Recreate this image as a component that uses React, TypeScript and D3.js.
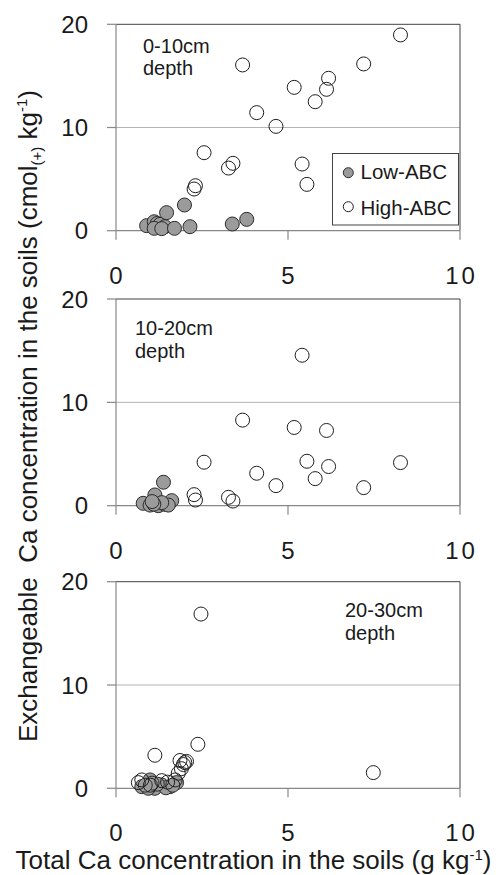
import React from "react";
import * as d3 from "d3";

// ---- Data (Total Ca g/kg, Exchangeable Ca cmol(+)/kg) ----
const lowABC_0_10: [number, number][] = [
  [0.89, 0.49], [1.11, 0.87], [1.2, 0.7], [1.28, 0.61], [1.42, 0.39], [1.11, 0.23],
  [1.33, 0.2], [1.7, 0.23], [2.15, 0.39], [1.47, 1.75], [1.99, 2.49], [3.38, 0.65], [3.8, 1.1],
];
const highABC_0_10: [number, number][] = [
  [8.27, 18.97], [7.2, 16.16], [3.68, 16.06], [6.18, 14.77], [6.12, 13.7], [5.18, 13.89],
  [5.79, 12.5], [4.09, 11.44], [4.65, 10.11], [2.56, 7.56], [3.4, 6.53], [3.27, 6.07],
  [5.41, 6.46], [5.55, 4.49], [2.31, 4.36], [2.27, 4.04],
];
const lowABC_10_20: [number, number][] = [
  [1.38, 2.27], [1.13, 1.04], [0.79, 0.23], [0.99, 0.06], [1.23, 0.0], [1.42, 0.13],
  [1.62, 0.49], [1.52, 0.06], [1.33, 0.3], [1.1, 0.15], [1.05, 0.4],
];
const highABC_10_20: [number, number][] = [
  [8.27, 4.17], [7.2, 1.75], [3.68, 8.28], [6.18, 3.79], [6.12, 7.28], [5.18, 7.57],
  [5.79, 2.62], [4.09, 3.14], [4.65, 1.94], [2.56, 4.21], [3.4, 0.45], [3.27, 0.81],
  [5.41, 14.56], [5.55, 4.3], [2.31, 0.55], [2.27, 1.07],
];
const lowABC_20_30: [number, number][] = [
  [0.99, 0.81], [1.33, 0.32], [1.76, 0.55], [0.75, 0.16], [1.13, 0.0], [1.57, 0.16],
  [0.94, 0.0], [1.45, 0.05], [1.2, 0.4], [1.65, 0.3], [1.05, 0.5], [0.85, 0.3],
];
const highABC_20_30: [number, number][] = [
  [2.47, 16.87], [2.38, 4.26], [1.13, 3.2], [7.48, 1.52], [1.86, 2.69], [2.0, 2.49],
  [1.96, 2.3], [1.81, 1.46], [0.65, 0.55], [0.75, 0.81], [1.33, 0.74], [1.72, 0.81],
  [1.9, 1.9], [1.0, 0.3], [1.5, 0.6], [2.05, 2.6],
];

const xTicks = [0, 5, 10];
const yTicks = [0, 10, 20];
const depthLabels = ["0-10cm", "10-20cm", "20-30cm"];
const legendLabels = ["Low-ABC", "High-ABC"];

const FONT = "Arial, 'Liberation Sans', Helvetica, sans-serif";

const panels = [
  { low: lowABC_0_10, high: highABC_0_10, top: 24.3, bottom: 230.7, label: depthLabels[0], lx: 143, ly: 52.7, legend: true },
  { low: lowABC_10_20, high: highABC_10_20, top: 299, bottom: 505.7, label: depthLabels[1], lx: 135, ly: 335, legend: false },
  { low: lowABC_20_30, high: highABC_20_30, top: 581.7, bottom: 788.3, label: depthLabels[2], lx: 345, ly: 617.3, legend: false },
];

const x = d3.scaleLinear().domain([0, 10]).range([116, 460]);

function Panel({ p }: { p: (typeof panels)[number] }) {
  const y = d3.scaleLinear().domain([0, 20]).range([p.bottom, p.top]);
  const R = 7;
  return (
    <g>
      <line x1={x(0)} x2={x(10)} y1={y(10)} y2={y(10)} stroke="#b4b4b4" strokeWidth={1} />
      <line x1={x(0)} x2={x(10)} y1={y(20)} y2={y(20)} stroke="#404040" strokeWidth={1} />
      <line x1={x(10)} x2={x(10)} y1={y(20)} y2={y(0)} stroke="#404040" strokeWidth={1} />
      <line x1={x(0)} x2={x(0)} y1={y(20)} y2={y(0)} stroke="#888" strokeWidth={1.2} />
      <line x1={x(0)} x2={x(10)} y1={y(0)} y2={y(0)} stroke="#888" strokeWidth={1.2} />
      {yTicks.map((t) => (
        <g key={"y" + t}>
          <line x1={x(0) - 9} x2={x(0)} y1={y(t)} y2={y(t)} stroke="#888" strokeWidth={1.2} />
          <text x={88} y={y(t) + 8.5} textAnchor="end" fontSize={24} fill="#1a1a1a" fontFamily={FONT}>
            {t}
          </text>
        </g>
      ))}
      {xTicks.map((t) => (
        <g key={"x" + t}>
          <line x1={x(t)} x2={x(t)} y1={y(0)} y2={y(0) + 9} stroke="#888" strokeWidth={1.2} />
          <text x={x(t) + 1.5} y={y(0) + 53} textAnchor="middle" fontSize={24} fill="#1a1a1a" fontFamily={FONT} letterSpacing="3px">
            {t}
          </text>
        </g>
      ))}
      {p.low.map((d, i) => (
        <circle key={"l" + i} cx={x(d[0])} cy={y(d[1])} r={R} fill="#9b9b9b" stroke="#2a2a2a" strokeWidth={1} />
      ))}
      {p.high.map((d, i) => (
        <circle key={"h" + i} cx={x(d[0])} cy={y(d[1])} r={R} fill="none" stroke="#1e1e1e" strokeWidth={1} />
      ))}
      <text x={p.lx} y={p.ly} fontSize={20} fill="#1a1a1a" fontFamily={FONT}>
        {p.label}
      </text>
      <text x={p.lx} y={p.ly + 22.5} fontSize={20} fill="#1a1a1a" fontFamily={FONT}>
        depth
      </text>
      {p.legend && (
        <g>
          <rect x={332.5} y={153.5} width={126} height={71.5} fill="#fff" stroke="#444" strokeWidth={1} />
          <circle cx={348.3} cy={172.7} r={5} fill="#9b9b9b" stroke="#2a2a2a" strokeWidth={1} />
          <text x={360.5} y={178.5} fontSize={20.5} fill="#1a1a1a" fontFamily={FONT}>
            {legendLabels[0]}
          </text>
          <circle cx={348.3} cy={206.7} r={5} fill="none" stroke="#1e1e1e" strokeWidth={1} />
          <text x={360.5} y={215} fontSize={20.5} fill="#1a1a1a" fontFamily={FONT}>
            {legendLabels[1]}
          </text>
        </g>
      )}
    </g>
  );
}

export default function App() {
  return (
    <svg
      width={501}
      height={875}
      viewBox="0 0 501 875"
      style={{ position: "absolute", left: 0, top: 0, background: "#fff" }}
    >
      <rect x={0} y={0} width={501} height={875} fill="#fff" />
      {panels.map((p, i) => (
        <Panel key={i} p={p} />
      ))}
      <text
        transform="translate(37,416) rotate(-90)"
        textAnchor="middle"
        fontSize={26}
        fill="#1a1a1a"
        fontFamily={FONT}
        style={{ whiteSpace: "pre" }}
      >
        {"Exchangeable  Ca concentration in the soils (cmol"}
        <tspan fontSize={15} dy={5}>(+)</tspan>
        <tspan dy={-5}>{" kg"}</tspan>
        <tspan fontSize={15} dy={-10}>-1</tspan>
        <tspan dy={10}>)</tspan>
      </text>
      <text x={253.5} y={869} textAnchor="middle" fontSize={26} fill="#1a1a1a" fontFamily={FONT}>
        Total Ca concentration in the soils (g kg
        <tspan fontSize={15} dy={-9}>-1</tspan>
        <tspan dy={9}>)</tspan>
      </text>
    </svg>
  );
}
